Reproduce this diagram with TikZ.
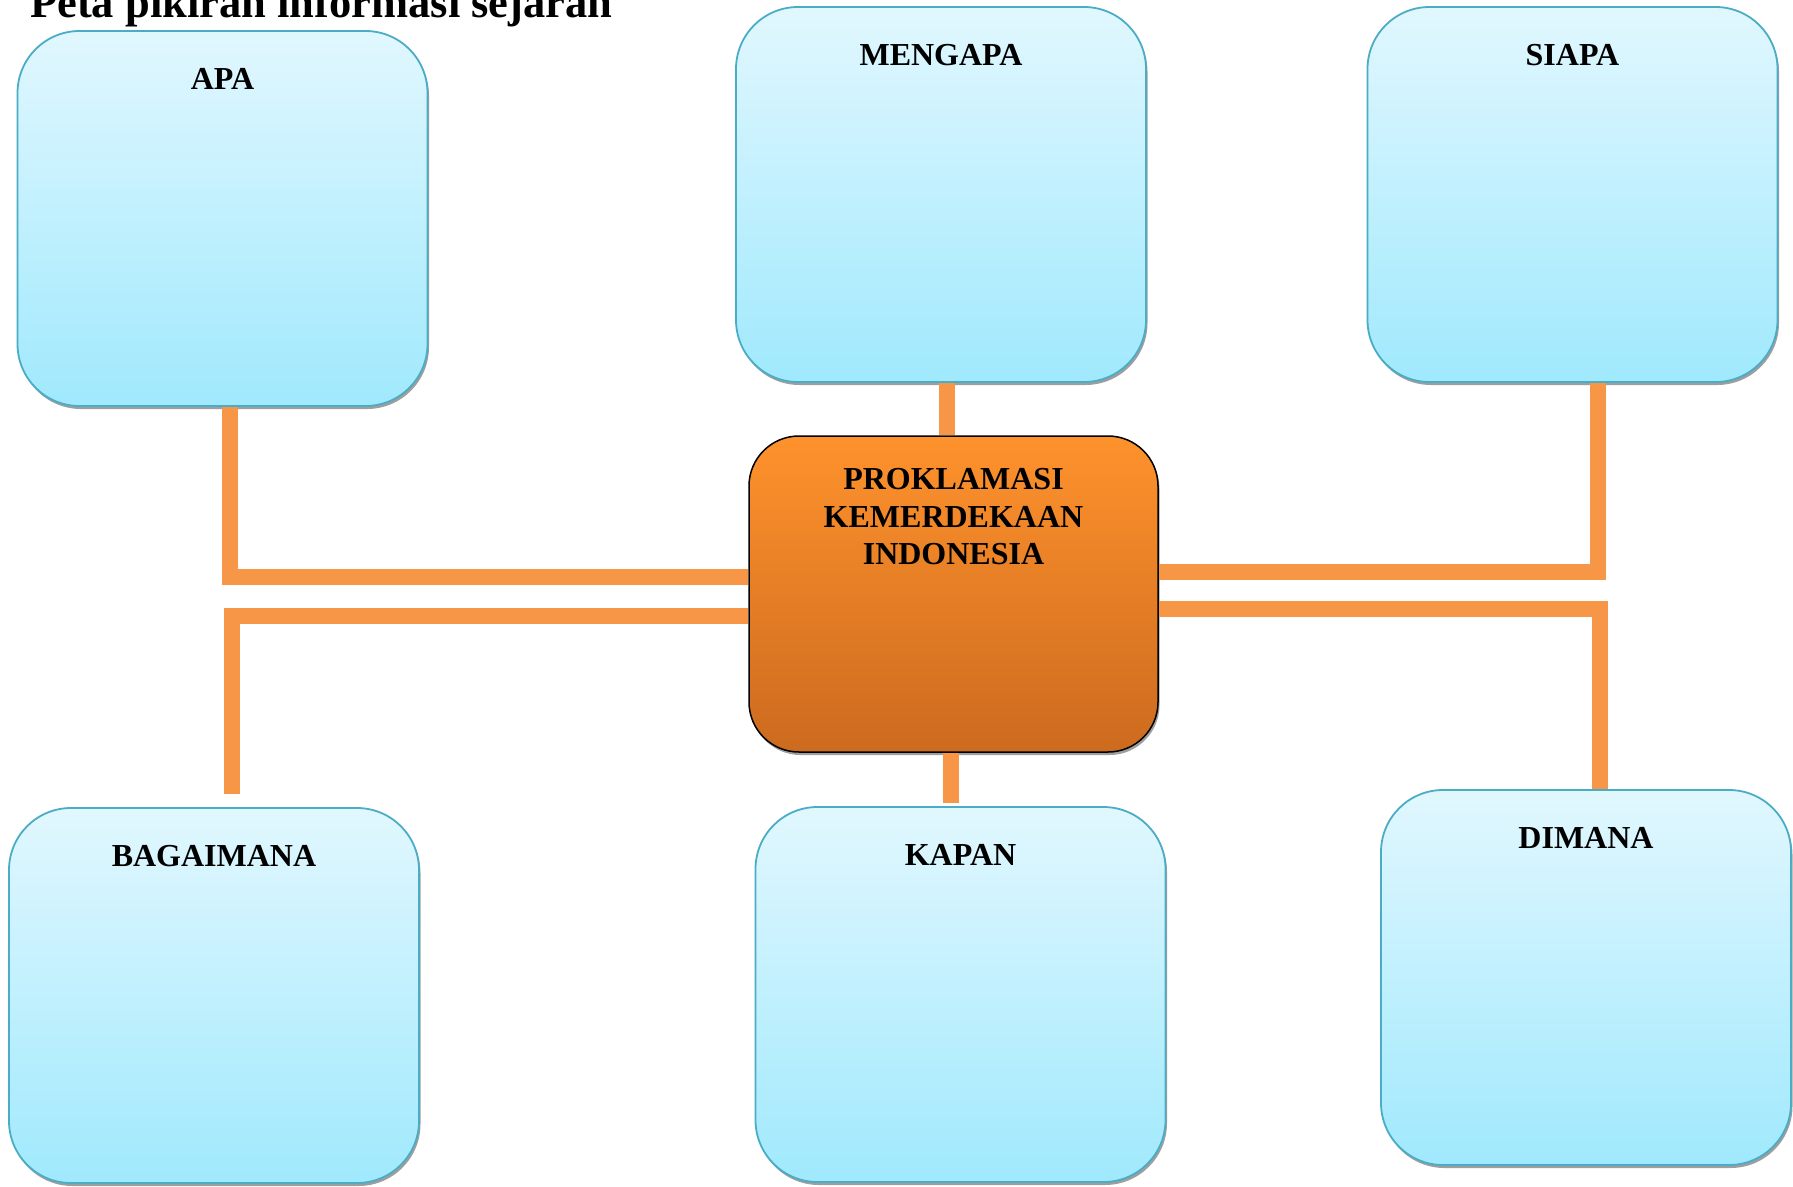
\documentclass[tikz,border=0pt]{standalone}
\usepackage{fontspec}
\setmainfont{Liberation Serif}
\usetikzlibrary{calc,shadows}
\definecolor{bluetop}{HTML}{E1F7FE}
\definecolor{bluebot}{HTML}{A0E9FD}
\definecolor{blueedge}{HTML}{4BACC6}
\definecolor{orgtop}{HTML}{FE922C}
\definecolor{orgbot}{HTML}{CC6A1F}
\definecolor{conn}{HTML}{F79646}
\tikzset{
  qbox/.style={rectangle, rounded corners=62pt, minimum width=410pt, minimum height=375pt,
    inner sep=0pt, draw=blueedge, line width=1.8pt, top color=bluetop, bottom color=bluebot,
    drop shadow={shadow xshift=1.5pt, shadow yshift=-3pt, fill=black!38, opacity=1}},
  mainbox/.style={rectangle, rounded corners=50pt, minimum width=409pt, minimum height=316pt,
    inner sep=0pt, draw=black, line width=1.5pt, top color=orgtop, bottom color=orgbot,
    drop shadow={shadow xshift=1.5pt, shadow yshift=-3pt, fill=black!38, opacity=1}},
  lbl/.style={anchor=base, inner sep=0pt, font=\fontsize{32}{37.5}\selectfont\bfseries},
  connector/.style={draw=conn, line width=16pt, line join=miter, line cap=butt},
}
\begin{document}
\begin{tikzpicture}[x=1pt,y=-1pt]
\useasboundingbox (0,0) rectangle (1793,1186);
% title
\node[anchor=base west, inner sep=0pt, font=\fontsize{44.5}{50}\selectfont\bfseries] (title) at (30,17.5) {Peta pikiran informasi sejarah};
% boxes
\node[qbox] (apa) at (222.5,218.5) {};
\node[qbox] (mengapa) at (941,194.5) {};
\node[qbox] (siapa) at (1572.5,194.5) {};
\node[qbox] (bag) at (214,995.5) {};
\node[qbox] (kapan) at (960.5,994.5) {};
\node[qbox] (dimana) at (1586,977.5) {};
\node[mainbox] (pk) at (953.5,594) {};
% labels
\node[lbl] (apa-t) at ($(apa.north)+(0,59)$) {APA};
\node[lbl] (mengapa-t) at ($(mengapa.north)+(0,59)$) {MENGAPA};
\node[lbl] (siapa-t) at ($(siapa.north)+(0,59)$) {SIAPA};
\node[lbl] (bag-t) at ($(bag.north)+(0,59)$) {BAGAIMANA};
\node[lbl] (kapan-t) at ($(kapan.north)+(0,59)$) {KAPAN};
\node[lbl] (dimana-t) at ($(dimana.north)+(0,59)$) {DIMANA};
\node[anchor=north, inner sep=0pt, align=center, font=\fontsize{32}{37.5}\selectfont\bfseries] (pk-t) at ($(pk.north)+(0,33)$) {PROKLAMASI\\KEMERDEKAAN\\INDONESIA};
% connector end points
\coordinate (bagend) at ($(bag.north)+(18,-13)$);
\coordinate (kapanend) at ($(kapan.north)+(-9.5,-3)$);
% connectors
\draw[connector] ($(apa.south)+(7.5,0)$) |- ($(pk.west)+(0,-17)$);
\draw[connector] ($(pk.west)+(0,22)$) -| (bagend);
\draw[connector] ($(pk.east)+(0,-22)$) -| ($(siapa.south)+(25,0)$);
\draw[connector] ($(pk.east)+(0,15)$) -| ($(dimana.north)+(14,0)$);
\draw[connector] ($(mengapa.south)+(6,0)$) -- ($(pk.north)+(-6.5,0)$);
\draw[connector] ($(pk.south)+(-2.5,0)$) -- (kapanend);
\end{tikzpicture}
\end{document}
